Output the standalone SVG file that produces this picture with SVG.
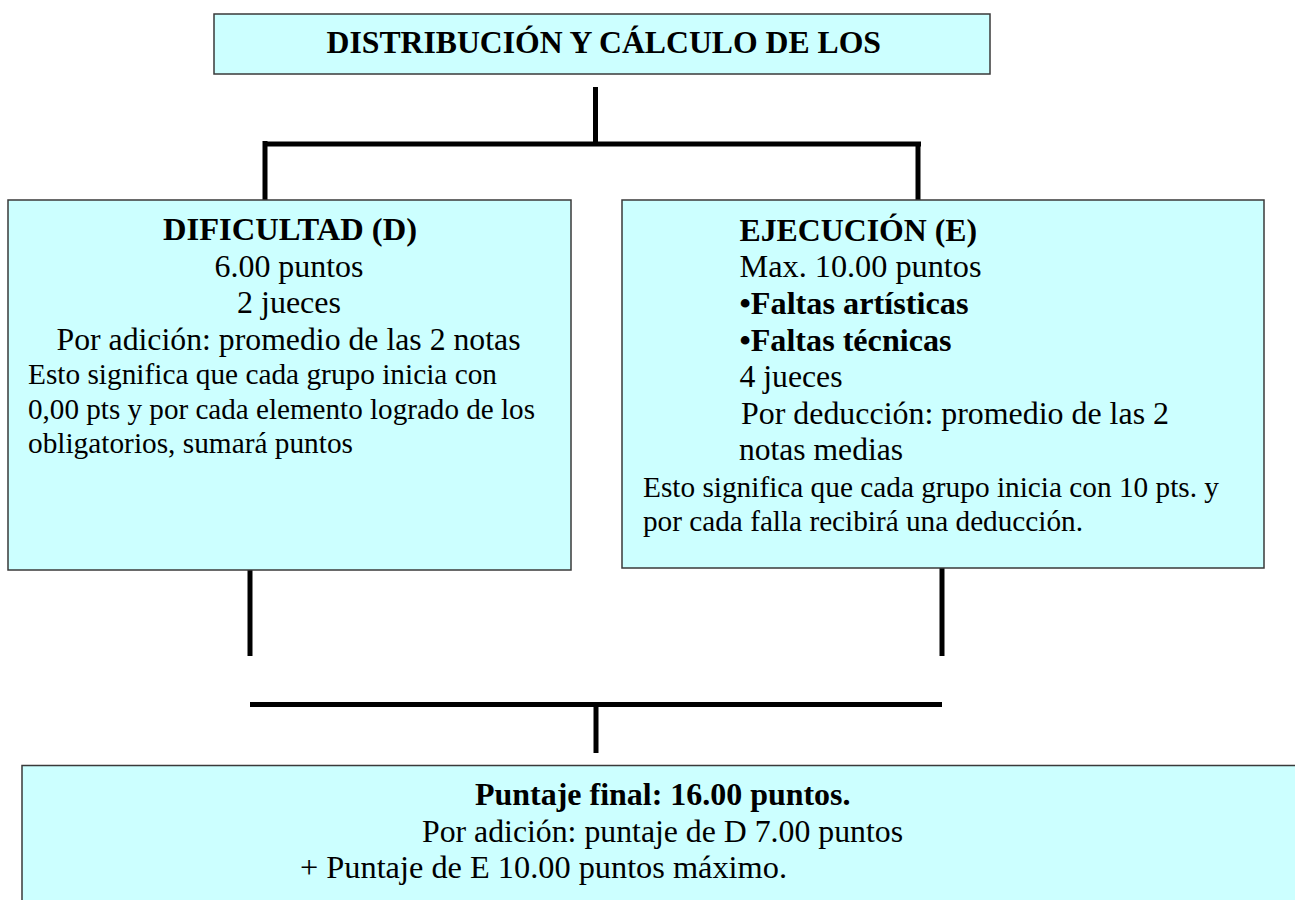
<svg xmlns="http://www.w3.org/2000/svg" width="1295" height="900" viewBox="0 0 1295 900">
<style>
.box{fill:#CCFFFF;stroke:#3a3a3a;stroke-width:1.5}
.t{font-family:"Liberation Serif","Times New Roman",serif;font-size:32px;fill:#000}
.s{font-size:29.3px}
.b{font-weight:bold}
.ln{stroke:#000;stroke-width:5;fill:none}
</style>
<rect width="1295" height="900" fill="#fff"/>
<g id="connectors">
<line class="ln" x1="595.5" y1="87" x2="595.5" y2="142"/>
<line class="ln" x1="267" y1="144" x2="921" y2="144"/>
<line class="ln" x1="265" y1="141" x2="265" y2="200"/>
<line class="ln" x1="918" y1="142" x2="918" y2="200"/>
<line class="ln" x1="250" y1="565" x2="250" y2="656"/>
<line class="ln" x1="942" y1="565" x2="942" y2="656"/>
<line class="ln" x1="250" y1="704.5" x2="942" y2="704.5" stroke-width="6"/>
<line class="ln" x1="596" y1="707" x2="596" y2="753"/>
</g>
<g id="title">
<rect class="box" x="214" y="14" width="776" height="60"/>
<text class="t b" x="326.5" y="53" textLength="554.5" lengthAdjust="spacingAndGlyphs">DISTRIBUCIÓN Y CÁLCULO DE LOS</text>
</g>
<g id="dificultad">
<rect class="box" x="8" y="200" width="563" height="370"/>
<text class="t b" x="163" y="240" textLength="254" lengthAdjust="spacingAndGlyphs">DIFICULTAD (D)</text>
<text class="t" x="214.5" y="276.5" textLength="149" lengthAdjust="spacingAndGlyphs">6.00 puntos</text>
<text class="t" x="237" y="312.5" textLength="104" lengthAdjust="spacingAndGlyphs">2 jueces</text>
<text class="t" x="56.5" y="349.5" textLength="464" lengthAdjust="spacingAndGlyphs">Por adición: promedio de las 2 notas</text>
<text class="t s" x="28" y="384" textLength="469" lengthAdjust="spacingAndGlyphs">Esto significa que cada grupo inicia con</text>
<text class="t s" x="28" y="418.5" textLength="507" lengthAdjust="spacingAndGlyphs">0,00 pts y por cada elemento logrado de los</text>
<text class="t s" x="28" y="452.5" textLength="325" lengthAdjust="spacingAndGlyphs">obligatorios, sumará puntos</text>
</g>
<g id="ejecucion">
<rect class="box" x="622" y="200" width="642" height="368"/>
<text class="t b" x="739.5" y="240.7" textLength="237.5" lengthAdjust="spacingAndGlyphs">EJECUCIÓN (E)</text>
<text class="t" x="739.5" y="276.7" textLength="242" lengthAdjust="spacingAndGlyphs">Max. 10.00 puntos</text>
<text class="t b" x="739.5" y="314" textLength="229" lengthAdjust="spacingAndGlyphs">•Faltas artísticas</text>
<text class="t b" x="739.5" y="351" textLength="212" lengthAdjust="spacingAndGlyphs">•Faltas técnicas</text>
<text class="t" x="739.5" y="387" textLength="103" lengthAdjust="spacingAndGlyphs">4 jueces</text>
<text class="t" x="741" y="423.5" textLength="428" lengthAdjust="spacingAndGlyphs">Por deducción: promedio de las 2</text>
<text class="t" x="739" y="460" textLength="164" lengthAdjust="spacingAndGlyphs">notas medias</text>
<text class="t s" x="643" y="496.5" textLength="576" lengthAdjust="spacingAndGlyphs">Esto significa que cada grupo inicia con 10 pts. y</text>
<text class="t s" x="643" y="531" textLength="440" lengthAdjust="spacingAndGlyphs">por cada falla recibirá una deducción.</text>
</g>
<g id="final">
<rect class="box" x="22" y="765.5" width="1300" height="150"/>
<text class="t b" x="475" y="805" textLength="375.5" lengthAdjust="spacingAndGlyphs">Puntaje final: 16.00 puntos.</text>
<text class="t" x="422" y="841.7" textLength="481" lengthAdjust="spacingAndGlyphs">Por adición: puntaje de D 7.00 puntos</text>
<text class="t" x="300" y="878" textLength="487" lengthAdjust="spacingAndGlyphs">+ Puntaje de E 10.00 puntos máximo.</text>
</g>
</svg>
